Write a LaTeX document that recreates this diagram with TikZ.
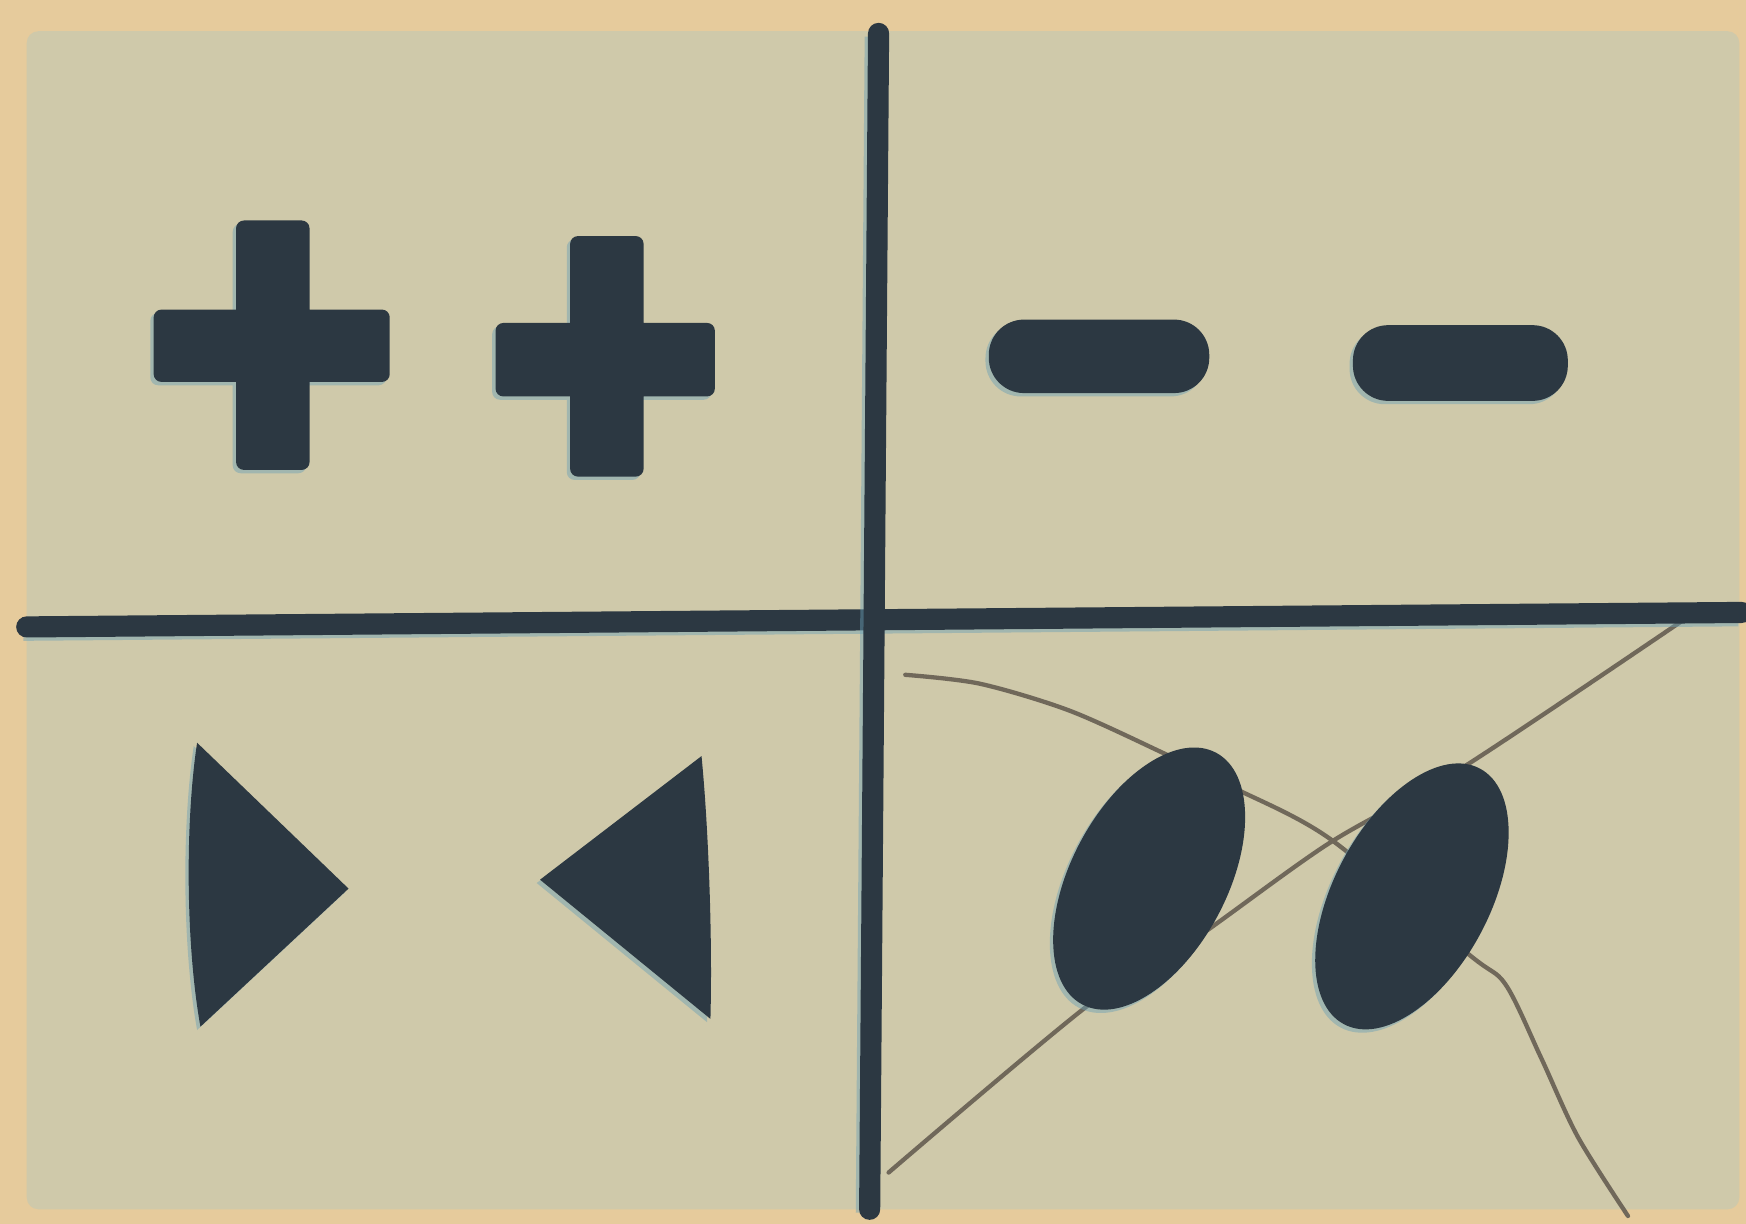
\documentclass[tikz,border=0pt]{standalone}
\definecolor{paper}{RGB}{230,203,156}
\definecolor{panel}{RGB}{207,201,170}
\definecolor{ink}{RGB}{44,56,66}
\definecolor{fringe}{RGB}{105,160,182}
\definecolor{pencil}{RGB}{112,104,90}
\tikzset{
  inkshape/.style={fill=ink,
    preaction={fill=fringe, opacity=.45, transform canvas={shift={(-3,3)}}}},
  rulerline/.style={draw=ink, line width=5.4pt, line cap=round,
    preaction={draw=fringe, opacity=.45, line width=5.4pt, transform canvas={shift={(-3,3)}}}},
  pencilline/.style={draw=pencil, line width=1.1pt, line cap=round}
}
\begin{document}
\begin{tikzpicture}[x=0.01cm,y=-0.01cm]
\useasboundingbox (0,0) rectangle (1568,1099);
% paper and panel
\fill[paper] (0,0) rectangle (1568,1099);
\fill[panel, rounded corners=3pt] (24,28) rectangle (1562,1086);

% pencil lines (under the ink)
\coordinate (a0) at (798,1053);
\coordinate (a1) at (977,903);
\coordinate (a2) at (1069,846);
\coordinate (a3) at (1194,757);
\coordinate (a4) at (1314,689);
\coordinate (a5) at (1510,558);
\draw[pencilline] plot[smooth, tension=0.5] coordinates {(a0) (a1) (a2) (a3) (a4) (a5)};
\coordinate (b0) at (813,606);
\coordinate (b1) at (880,614);
\coordinate (b2) at (960,638);
\coordinate (b3) at (1042,675);
\coordinate (b4) at (1107,707);
\coordinate (b5) at (1194,753);
\coordinate (b6) at (1319,857);
\coordinate (b7) at (1352,884);
\coordinate (b8) at (1384,950);
\coordinate (b9) at (1417,1021);
\coordinate (b10) at (1462,1092);
\draw[pencilline] plot[smooth, tension=0.5] coordinates {(b0) (b1) (b2) (b3) (b4) (b5) (b6) (b7) (b8) (b9) (b10)};

% crossing rules
\coordinate (vt) at (789,30);
\coordinate (vb) at (781,1086);
\coordinate (hl) at (24,563);
\coordinate (hr) at (1564,550);
\draw[rulerline] (hl) -- (hr);
\draw[rulerline] (vt) -- (vb);

% plus signs
\fill[inkshape, rounded corners=2pt] (212,198) rectangle (278,422) (138,278) rectangle (350,343);
\fill[inkshape, rounded corners=2pt] (512,212) rectangle (578,428) (445,290) rectangle (642,356);

% minus signs
\fill[inkshape, rounded corners=9pt] (888,287) rectangle (1086,353);
\fill[inkshape, rounded corners=9pt] (1215,292) rectangle (1408,360);

% triangles
\fill[inkshape] (177,667) -- (313,798) -- (180,922)
   .. controls (167,850) and (166,740) .. cycle;
\fill[inkshape] (630,679) -- (485,790) -- (638,915)
   .. controls (640,840) and (636,740) .. cycle;

% ellipses
\coordinate (e1) at (1032,789);
\coordinate (e2) at (1268,805);
\fill[inkshape, rotate around={62:(e1)}] (e1) ellipse [x radius=128, y radius=70];
\fill[inkshape, rotate around={62:(e2)}] (e2) ellipse [x radius=130, y radius=70];
\end{tikzpicture}
\end{document}
